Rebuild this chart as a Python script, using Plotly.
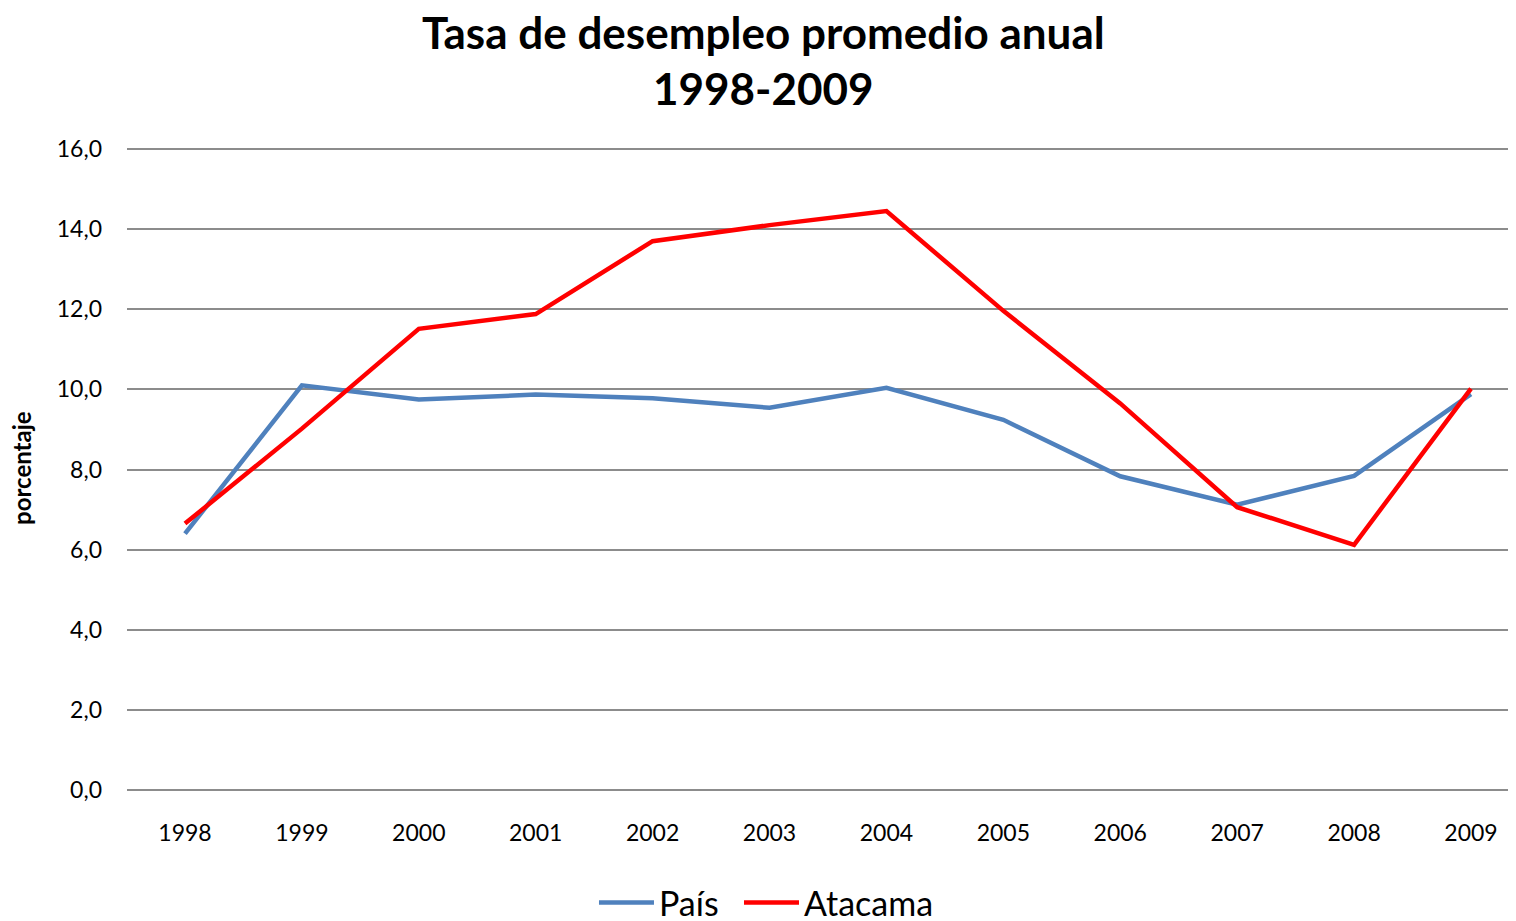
import plotly.graph_objects as go

years = [1998, 1999, 2000, 2001, 2002, 2003, 2004, 2005, 2006, 2007, 2008, 2009]
pais = [6.4, 10.1, 9.75, 9.87, 9.78, 9.54, 10.04, 9.24, 7.83, 7.12, 7.84, 9.88]
atacama = [6.65, 9.02, 11.51, 11.88, 13.7, 14.1, 14.45, 11.96, 9.65, 7.06, 6.12, 10.02]
yticks = [0, 2, 4, 6, 8, 10, 12, 14, 16]
yticklabels = ["0,0", "2,0", "4,0", "6,0", "8,0", "10,0", "12,0", "14,0", "16,0"]

font_family = "Lato, 'Open Sans', sans-serif"

fig = go.Figure()
fig.add_trace(go.Scatter(x=years, y=pais, mode="lines", name="País",
                         line=dict(color="#4F81BD", width=4.5), legend="legend"))
fig.add_trace(go.Scatter(x=years, y=atacama, mode="lines", name="Atacama",
                         line=dict(color="#FF0000", width=4.5), legend="legend2"))

legend_common = dict(orientation="h", xref="paper", xanchor="left",
                     y=0, yref="container", yanchor="bottom",
                     font=dict(size=34, family=font_family), itemwidth=55,
                     bgcolor="rgba(0,0,0,0)")

fig.update_layout(
    width=1508, height=924,
    margin=dict(l=119, r=0, t=137, b=138),
    paper_bgcolor="white", plot_bgcolor="white",
    font=dict(family=font_family, color="black"),
    showlegend=True,
    legend=dict(x=0.3362, **legend_common),
    legend2=dict(x=0.4406, **legend_common),
    annotations=[
        dict(text="<b>Tasa de desempleo promedio anual</b>", x=0.458, y=1.1745,
             xref="paper", yref="paper", xanchor="center", yanchor="middle",
             showarrow=False, font=dict(size=44, family=font_family)),
        dict(text="<b>1998-2009</b>", x=0.458, y=1.088,
             xref="paper", yref="paper", xanchor="center", yanchor="middle",
             showarrow=False, font=dict(size=44, family=font_family)),
        dict(text="<b>porcentaje</b>", x=-0.076, y=0.503, textangle=-90,
             xref="paper", yref="paper", xanchor="center", yanchor="middle",
             showarrow=False, font=dict(size=24, family=font_family)),
    ],
)

fig.update_xaxes(range=[1997.504, 2009.385], tickvals=years, ticktext=[str(y) for y in years],
                 showgrid=False, showline=False, zeroline=False, automargin=False,
                 tickfont=dict(size=23), ticks="", ticklabelstandoff=23)
fig.update_yaxes(range=[-0.1, 16.1], tickvals=yticks, ticktext=yticklabels,
                 showgrid=True, gridcolor="#8C8C8C", gridwidth=1.5,
                 zeroline=False, showline=False, ticks="", automargin=False,
                 tickfont=dict(size=23), ticklabelstandoff=24)

fig.write_html("out.html")
